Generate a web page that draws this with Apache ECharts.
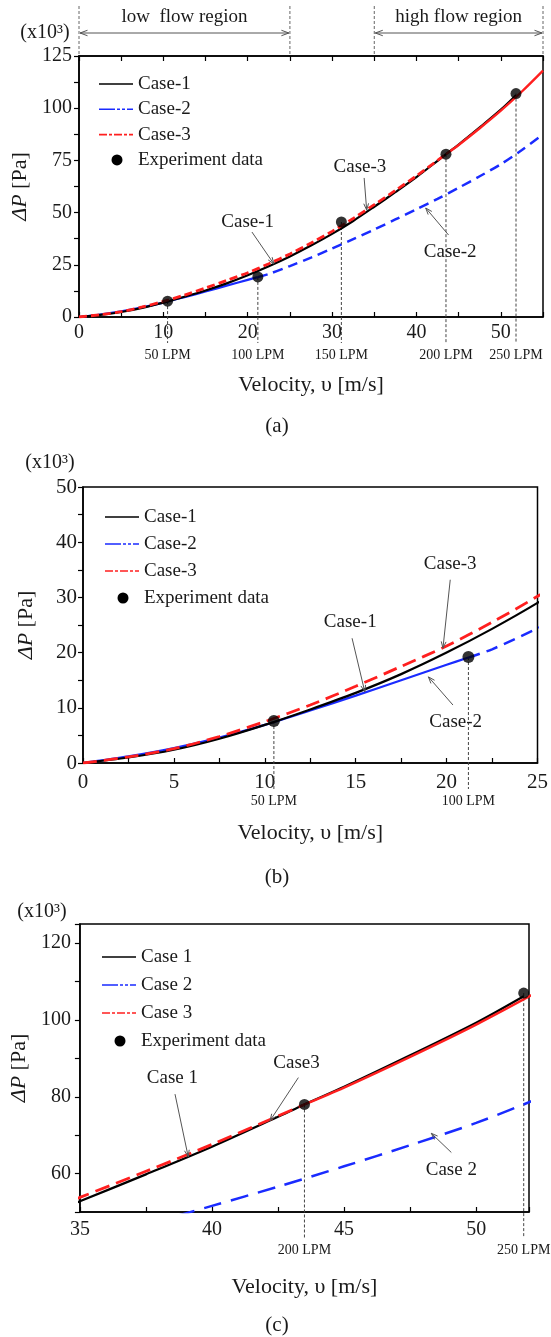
<!DOCTYPE html>
<html><head><meta charset="utf-8">
<script src="https://cdn.jsdelivr.net/npm/echarts@6/dist/echarts.min.js"></script>
<style>html,body{margin:0;padding:0;background:#fff}#c{width:551px;height:1337px}</style>
</head><body><div id="c"></div>
<script>
// ---------------- DATA ----------------
const case1Vel = [0, 2.5, 5, 7.5, 10, 12.5, 15, 17.5, 20, 22.5, 25, 27.5, 30, 32.5, 35, 37.5, 40, 42.5, 43.5, 45, 47.5, 50, 51.8];
const case1Dp  = [0, 1.0, 2.4, 4.4, 6.9, 9.7, 12.7, 16.1, 20.0, 24.3, 29.0, 34.2, 39.8, 46.0, 52.8, 59.8, 67.0, 74.8, 78.0, 82.6, 90.8, 99.3, 106.2];

const case2Vel = [0, 2.5, 5, 7.5, 10, 12.5, 15, 17.5, 20, 21.2, 22.5, 25, 27.5, 30, 32.5, 35, 37.5, 40, 42.5, 45, 47.5, 50, 52.5, 55];
const case2Dp  = [0, 1.2, 2.7, 4.6, 6.9, 9.5, 12.2, 15.0, 17.8, 19.1, 20.6, 24.4, 28.4, 32.8, 37.3, 41.9, 46.7, 51.6, 56.6, 61.9, 67.4, 73.2, 80.0, 87.5];
const case2SolidEnd = 21.2;   // solid up to here, dashed beyond

const case3Vel = [0, 2.5, 5, 7.5, 10, 12.5, 15, 17.5, 20, 22.5, 25, 27.5, 30, 32.5, 35, 37.5, 40, 42.5, 43.5, 45, 47.5, 50, 52.5, 55];
const case3Dp  = [0, 1.1, 2.6, 4.8, 7.5, 10.5, 13.9, 17.5, 21.2, 25.5, 30.2, 35.4, 41.0, 47.2, 53.8, 60.6, 67.6, 75.0, 78.0, 82.4, 90.4, 98.8, 108.0, 118.0];
const case3DashEnd = 43.5;    // dashed up to here, solid beyond

const expVel = [10.5, 21.2, 31.1, 43.5, 51.8];
const expDp  = [7.6, 19.2, 45.5, 78.0, 107.0];
const expLpm = ['50 LPM', '100 LPM', '150 LPM', '200 LPM', '250 LPM'];

const legendNamesAB = ['Case-1', 'Case-2', 'Case-3', 'Experiment data'];
const legendNamesC  = ['Case 1', 'Case 2', 'Case 3', 'Experiment data'];

const regionStart = [0, 35];
const regionEnd   = [25, 55];
const regionLabel = ['low  flow region', 'high flow region'];

// axis ranges & tick labels
const xLabelsA = [0, 10, 20, 30, 40, 50];
const yLabelsA = [0, 25, 50, 75, 100, 125];
const xLabelsB = [0, 5, 10, 15, 20, 25];
const yLabelsB = [0, 10, 20, 30, 40, 50];
const xLabelsC = [35, 40, 45, 50];
const yLabelsC = [60, 80, 100, 120];

// annotation labels (text position, arrow start, arrow tip in data units)
const annLabelsA = ['Case-1', 'Case-3', 'Case-2'];
const annTextA = [[20.0, 45.5], [33.3, 71.8], [44.0, 31.1]];
const annFromA = [[20.5, 40.7], [33.8, 66.6], [43.8, 39.3]];
const annToA   = [[23.1, 25.4], [34.1, 51.2], [41.1, 52.2]];

const annLabelsB = ['Case-3', 'Case-1', 'Case-2'];
const annTextB = [[20.2, 36.0], [14.7, 25.5], [20.5, 7.4]];
const annFromB = [[20.2, 33.2], [14.8, 22.6], [20.35, 10.5]];
const annToB   = [[19.8, 20.8], [15.5, 12.9], [19.0, 15.6]];

const annLabelsC = ['Case 1', 'Case3', 'Case 2'];
const annTextC = [[38.5, 84.9], [43.2, 88.9], [49.06, 61.0]];
const annFromC = [[38.6, 80.7], [43.27, 85.0], [49.06, 65.5]];
const annToC   = [[39.1, 64.4], [42.2, 73.8], [48.3, 70.5]];

// ---------------- STYLE / LAYOUT ----------------
const FONT = 'Liberation Serif';
const BLUE = '#1a2bff', RED = '#ff1f1f', INK = '#1a1a1a';

const panels = [
  { grid: {left: 79, top: 56, width: 464, height: 261},
    xMin: 0, xMax: 55, xTick: 5, xLabels: xLabelsA, yMin: 0, yMax: 125, yTick: 12.5, yLabels: yLabelsA,
    xMargin: 6, yMargin: 7, xNameGap: 57, yNameGap: 46, topTicks: true, tickFont: 20,
    dashBlue: [10, 6], dashRed: [8, 4], symbolSize: 11,
    ann: [annLabelsA, annTextA, annFromA, annToA],
    legend: {x: 99, y: 84, dy: 25.3, names: legendNamesAB},
    unit: {x: 45, y: 33}, title: {text: '(a)', y: 426} },
  { grid: {left: 83, top: 487, width: 454.5, height: 276},
    xMin: 0, xMax: 25, xTick: 2.5, xLabels: xLabelsB, yMin: 0, yMax: 50, yTick: 5, yLabels: yLabelsB,
    xMargin: 9, yMargin: 6, xNameGap: 59, yNameGap: 46, topTicks: false, tickFont: 21,
    dashBlue: [12, 7], dashRed: [14, 7], symbolSize: 12,
    ann: [annLabelsB, annTextB, annFromB, annToB],
    legend: {x: 105, y: 517, dy: 27, names: legendNamesAB},
    unit: {x: 50, y: 463}, title: {text: '(b)', y: 877} },
  { grid: {left: 76, top: 924, width: 453, height: 288},
    xMin: 35, xMax: 52, xTick: 2.5, xLabels: xLabelsC, yMin: 50, yMax: 125, yTick: 10, yLabels: yLabelsC,
    xMargin: 8, yMargin: 9, xNameGap: 64, yNameGap: 49, topTicks: false, tickFont: 20,
    dashBlue: [18, 10], dashRed: [15, 7], symbolSize: 11,
    ann: [annLabelsC, annTextC, annFromC, annToC],
    legend: {x: 102, y: 957, dy: 28, names: legendNamesC},
    unit: {x: 42, y: 912}, title: {text: '(c)', y: 1325} }
];

function pairs(xs, ys, keep) {
  const out = [];
  for (let i = 0; i < xs.length; i++) if (!keep || keep(xs[i])) out.push([xs[i], ys[i]]);
  return out;
}

const grids = [], xAxes = [], yAxes = [], series = [], graphics = [];

function arrowHead(tip, from, len, color) {
  const dx = tip[0] - from[0], dy = tip[1] - from[1];
  const L = Math.hypot(dx, dy) || 1;
  const ux = dx / L, uy = dy / L;
  const a = 0.35;
  const p1 = [tip[0] - len * (ux * Math.cos(a) - uy * Math.sin(a)), tip[1] - len * (uy * Math.cos(a) + ux * Math.sin(a))];
  const p2 = [tip[0] - len * (ux * Math.cos(-a) - uy * Math.sin(-a)), tip[1] - len * (uy * Math.cos(-a) + ux * Math.sin(-a))];
  return {type: 'polyline', shape: {points: [p1, tip, p2]}, style: {stroke: color, lineWidth: 1, fill: null}};
}

panels.forEach((P, pi) => {
  grids.push(Object.assign({show: true, borderColor: '#000', borderWidth: 1.5, backgroundColor: 'transparent'}, P.grid));
  const xIdx = xAxes.length;
  xAxes.push({
    type: 'value', gridIndex: pi, min: P.xMin, max: P.xMax, interval: P.xTick,
    axisLine: {show: true, onZero: false, lineStyle: {color: '#000', width: 1.5}},
    axisTick: {show: true, inside: true, length: 5, lineStyle: {color: '#000', width: 1.2}},
    axisLabel: {customValues: P.xLabels, color: INK, fontFamily: FONT, fontSize: P.tickFont, margin: P.xMargin},
    splitLine: {show: false},
    name: 'Velocity, υ [m/s]', nameLocation: 'middle', nameGap: P.xNameGap,
    nameTextStyle: {fontFamily: FONT, fontSize: 22, color: INK}
  });
  if (P.topTicks) {
    xAxes.push({
      type: 'value', gridIndex: pi, position: 'top', min: P.xMin, max: P.xMax, interval: P.xTick,
      axisLine: {show: true, onZero: false, lineStyle: {color: '#000', width: 1.5}},
      axisTick: {show: true, inside: true, length: 5, lineStyle: {color: '#000', width: 1.2}},
      axisLabel: {show: false}, splitLine: {show: false}
    });
  }
  const yIdx = yAxes.length;
  yAxes.push({
    type: 'value', gridIndex: pi, min: P.yMin, max: P.yMax, interval: P.yTick,
    axisLine: {show: true, onZero: false, lineStyle: {color: '#000', width: 1.5}},
    axisTick: {show: true, inside: false, length: 5, lineStyle: {color: '#000', width: 1.2}},
    axisLabel: {customValues: P.yLabels, color: INK, fontFamily: FONT, fontSize: P.tickFont, margin: P.yMargin},
    splitLine: {show: false},
    name: '{i|ΔP} [Pa]', nameLocation: 'middle', nameRotate: 90, nameGap: P.yNameGap,
    nameTextStyle: {fontFamily: FONT, fontSize: 22, color: INK,
      rich: {i: {fontFamily: FONT, fontSize: 22, fontStyle: 'italic', color: INK}}}
  });
  const ax = {xAxisIndex: xIdx, yAxisIndex: yIdx};
  const lw = 2.2;

  // Case-2 (blue): solid then dashed
  series.push(Object.assign({type: 'line', name: 'Case-2 solid', data: pairs(case2Vel, case2Dp, v => v <= case2SolidEnd),
    showSymbol: false, symbol: 'none', smooth: 0.3, lineStyle: {color: BLUE, width: lw}, z: 3}, ax));
  series.push(Object.assign({type: 'line', name: 'Case-2 dashed', data: pairs(case2Vel, case2Dp, v => v >= case2SolidEnd),
    showSymbol: false, symbol: 'none', smooth: 0.3, lineStyle: {color: BLUE, width: lw + 0.3, type: P.dashBlue}, z: 3}, ax));
  // Case-1 (black)
  series.push(Object.assign({type: 'line', name: 'Case-1', data: pairs(case1Vel, case1Dp),
    showSymbol: false, symbol: 'none', smooth: 0.3, lineStyle: {color: '#000', width: lw}, z: 4}, ax));
  // Case-3 (red): dashed then solid
  series.push(Object.assign({type: 'line', name: 'Case-3 dashed', data: pairs(case3Vel, case3Dp, v => v <= case3DashEnd),
    showSymbol: false, symbol: 'none', smooth: 0.3, lineStyle: {color: RED, width: lw + 0.6, type: P.dashRed}, z: 5}, ax));
  series.push(Object.assign({type: 'line', name: 'Case-3 solid', data: pairs(case3Vel, case3Dp, v => v >= case3DashEnd),
    showSymbol: false, symbol: 'none', smooth: 0.3, lineStyle: {color: RED, width: lw + 0.2}, z: 5}, ax));

  // guide lines from experiment points down to LPM labels
  const expData = [];
  expVel.forEach((v, i) => {
    if (v >= P.xMin && v <= P.xMax && expDp[i] >= P.yMin && expDp[i] <= P.yMax) expData.push([v, expDp[i], i]);
  });
  series.push(Object.assign({type: 'custom', name: 'guides', data: expData, z: 2, silent: true,
    renderItem: (params, api) => {
      const x = api.value(0), y = api.value(1), idx = api.value(2);
      const p = api.coord([x, y]);
      const b = api.coord([x, P.yMin]);
      return {type: 'group', children: [
        {type: 'line', shape: {x1: p[0], y1: p[1], x2: p[0], y2: b[1] + 26},
          style: {stroke: '#444', lineWidth: 1, lineDash: [3, 2]}},
        {type: 'text', x: p[0], y: b[1] + 38,
          style: {text: expLpm[idx], align: 'center', verticalAlign: 'middle', font: '14px "' + FONT + '"', fill: INK}}
      ]};
    }}, ax));

  // experiment points
  series.push(Object.assign({type: 'scatter', name: 'Experiment data', data: expData.map(d => [d[0], d[1]]),
    symbol: 'circle', symbolSize: P.symbolSize, itemStyle: {color: '#000'}, z: 8, clip: false}, ax));

  // annotations
  const [labs, txt, frm, to] = P.ann;
  series.push(Object.assign({type: 'custom', name: 'annotations', z: 9, silent: true,
    data: txt.map((t, i) => [t[0], t[1], frm[i][0], frm[i][1], to[i][0], to[i][1]]),
    renderItem: (params, api) => {
      const t = api.coord([api.value(0), api.value(1)]);
      const f = api.coord([api.value(2), api.value(3)]);
      const e = api.coord([api.value(4), api.value(5)]);
      return {type: 'group', children: [
        {type: 'text', x: t[0], y: t[1], style: {text: labs[params.dataIndex], align: 'center', verticalAlign: 'middle',
          font: '19px "' + FONT + '"', fill: INK}},
        {type: 'line', shape: {x1: f[0], y1: f[1], x2: e[0], y2: e[1]}, style: {stroke: '#555', lineWidth: 1}},
        arrowHead(e, f, 7, '#555')
      ]};
    }}, ax));

  // region markers (panel a)
  if (pi === 0) {
    series.push(Object.assign({type: 'custom', name: 'regions', z: 9, silent: true,
      data: regionStart.map((s, i) => [s, regionEnd[i]]),
      renderItem: (params, api) => {
        const s = api.coord([api.value(0), P.yMax]);
        const e = api.coord([api.value(1), P.yMax]);
        const top = s[1], ay = top - 23;
        const dash = {stroke: '#666', lineWidth: 1, lineDash: [3, 2]};
        return {type: 'group', children: [
          {type: 'line', shape: {x1: s[0], y1: top - 50, x2: s[0], y2: top}, style: dash},
          {type: 'line', shape: {x1: e[0], y1: top - 50, x2: e[0], y2: top}, style: dash},
          {type: 'line', shape: {x1: s[0] + 1, y1: ay, x2: e[0] - 1, y2: ay}, style: {stroke: '#555', lineWidth: 1}},
          arrowHead([s[0] + 1, ay], [e[0], ay], 8, '#555'),
          arrowHead([e[0] - 1, ay], [s[0], ay], 8, '#555'),
          {type: 'text', x: (s[0] + e[0]) / 2, y: top - 39, style: {text: regionLabel[params.dataIndex], align: 'center',
            verticalAlign: 'middle', font: '19px "' + FONT + '"', fill: INK}}
        ]};
      }}, ax));
  }

  // legend (graphic)
  const L = P.legend;
  const lineStyles = [
    {stroke: '#000', lineWidth: 1.6},
    {stroke: BLUE, lineWidth: 1.6, lineDash: [16, 2, 3, 2, 3, 2]},
    {stroke: RED, lineWidth: 1.6, lineDash: [8, 2, 3, 2]}
  ];
  L.names.forEach((n, i) => {
    const y = L.y + i * L.dy;
    if (i < 3) {
      graphics.push({type: 'line', shape: {x1: L.x, y1: y, x2: L.x + 34, y2: y}, style: lineStyles[i], z: 10});
    } else {
      graphics.push({type: 'circle', shape: {cx: L.x + 18, cy: y, r: 5.5}, style: {fill: '#000'}, z: 10});
    }
    graphics.push({type: 'text', x: L.x + 39, y: y, style: {text: n, font: '19px "' + FONT + '"', fill: INK,
      verticalAlign: 'middle', align: 'left'}, z: 10});
  });
  graphics.push({type: 'text', x: P.unit.x, y: P.unit.y, style: {text: '(x10³)', font: '20px "' + FONT + '"', fill: INK,
    align: 'center', verticalAlign: 'middle'}, z: 10});
  graphics.push({type: 'text', x: 277, y: P.title.y, style: {text: P.title.text, font: '21px "' + FONT + '"', fill: INK,
    align: 'center', verticalAlign: 'middle'}, z: 10});
});

const chart = echarts.init(document.getElementById('c'), null, {renderer: 'canvas'});
chart.setOption({
  animation: false,
  backgroundColor: '#fff',
  grid: grids, xAxis: xAxes, yAxis: yAxes, series: series,
  graphic: graphics
});
</script></body></html>
